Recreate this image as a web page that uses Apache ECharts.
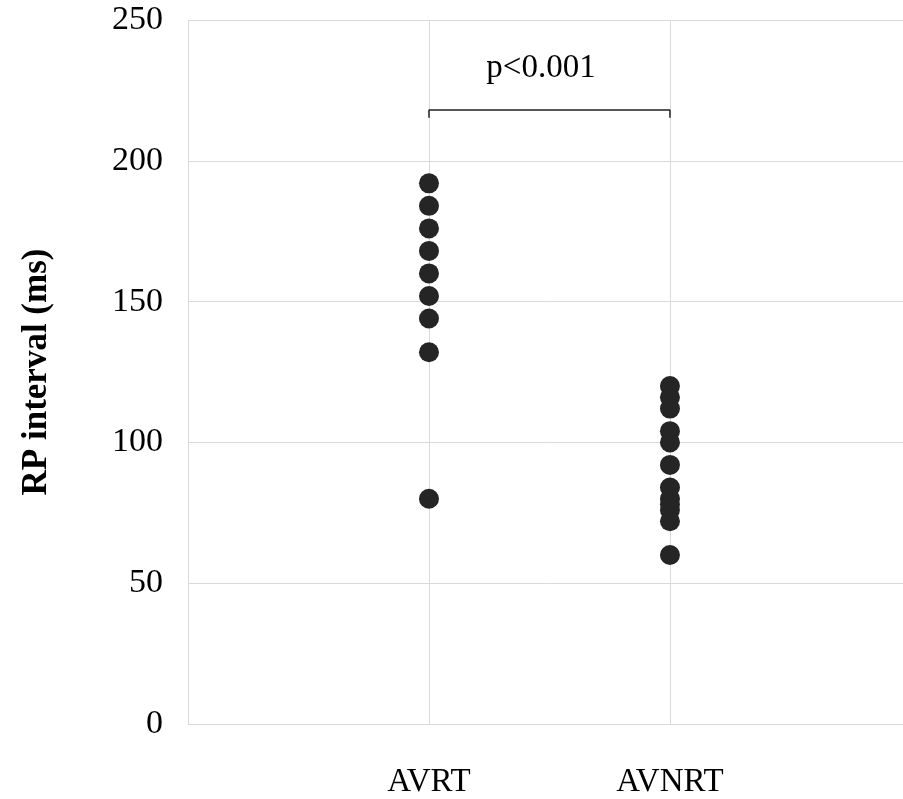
<!DOCTYPE html>
<html><head><meta charset="utf-8">
<script src="https://cdn.jsdelivr.net/npm/echarts@6/dist/echarts.min.js"></script>
<style>html,body{margin:0;padding:0;background:#fff;overflow:hidden}#c{width:903px;height:799px}</style>
</head><body><div id="c"></div>
<script>
const categories = ['AVRT', 'AVNRT'];
const avrtValues = [192, 184, 176, 168, 160, 152, 144, 132, 80];
const avnrtValues = [120, 116, 112, 104, 100, 92, 84, 80, 78, 76, 72, 60];
const yTicks = [0, 50, 100, 150, 200, 250];
const bracketY = 218;
const bracketTickY = 215.3;
const pLabel = 'p<0.001';
const pLabelPos = [1.465, 233];
const xMax = 2.967;

const font = '"Liberation Serif", "Times New Roman", serif';
const chart = echarts.init(document.getElementById('c'), null, {renderer: 'canvas', width: 903, height: 799});
chart.setOption({
  backgroundColor: '#fff',
  animation: false,
  grid: {left: 188, top: 20, right: 0, height: 707, containLabel: false},
  xAxis: {
    type: 'value', min: 0, max: xMax, interval: 1,
    axisLine: {show: false}, axisTick: {show: false},
    splitLine: {show: true, showMaxLine: false, lineStyle: {color: '#d9d9d9', width: 1}},
    axisLabel: {
      margin: 42, fontFamily: font, fontSize: 33, color: '#000', showMaxLabel: false,
      formatter: v => (v >= 1 && v <= categories.length && Number.isInteger(v)) ? categories[v - 1] : ''
    }
  },
  yAxis: {
    type: 'value', min: yTicks[0], max: yTicks[yTicks.length - 1], interval: 50,
    name: 'RP interval (ms)', nameLocation: 'middle', nameGap: 134, nameRotate: 90,
    nameTextStyle: {fontFamily: font, fontSize: 35, fontWeight: 'bold', color: '#000'},
    axisLine: {show: false}, axisTick: {show: false},
    splitLine: {show: true, lineStyle: {color: '#d9d9d9', width: 1}},
    axisLabel: {margin: 25, fontFamily: font, fontSize: 34, color: '#000'}
  },
  series: [
    {
      type: 'scatter', symbolSize: 20, itemStyle: {color: '#252525', opacity: 1},
      data: avrtValues.map(v => [1, v])
    },
    {
      type: 'scatter', symbolSize: 20, itemStyle: {color: '#252525', opacity: 1},
      data: avnrtValues.map(v => [2, v])
    },
    {
      type: 'line', symbol: 'none', lineStyle: {color: '#222', width: 1.5, opacity: 1},
      data: [[1, bracketTickY], [1, bracketY], [2, bracketY], [2, bracketTickY]]
    },
    {
      type: 'scatter', symbolSize: 0, itemStyle: {opacity: 1},
      label: {show: true, position: 'inside', formatter: pLabel, fontFamily: font, fontSize: 33, color: '#000', opacity: 1},
      data: [pLabelPos]
    }
  ]
});
</script></body></html>
